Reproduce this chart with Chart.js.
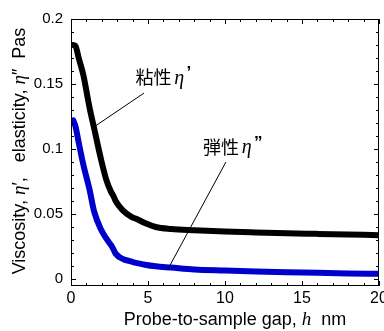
<!DOCTYPE html>
<html>
<head>
<meta charset="utf-8">
<script src="https://cdn.jsdelivr.net/npm/chart.js@4.4.1/dist/chart.umd.min.js"></script>
<style>
  html, body { margin: 0; padding: 0; background: #fff; }
</style>
</head>
<body>
<canvas id="myChart" width="384" height="331"></canvas>
<script>
// probe-to-sample gap h (nm)
var gap = [0.15, 0.3, 0.5, 0.8, 1.2, 1.5, 1.95, 2.3, 2.6, 2.75, 2.9, 3.35, 3.9, 4.3, 4.8, 5.5, 6.5, 8, 10, 12, 14, 16, 18, 20];
// viscosity eta' (Pa s)
var viscosity = [0.180, 0.179, 0.170, 0.157, 0.132, 0.116, 0.092, 0.076, 0.067, 0.064, 0.060, 0.053, 0.048, 0.046, 0.043, 0.040, 0.0385, 0.0375, 0.0365, 0.0358, 0.0352, 0.0347, 0.0342, 0.0337];
// elasticity eta'' (Pa s)
var elasticity = [0.122, 0.117, 0.105, 0.088, 0.069, 0.052, 0.038, 0.031, 0.026, 0.023, 0.0195, 0.0155, 0.0135, 0.0122, 0.011, 0.0098, 0.0088, 0.0073, 0.0065, 0.0058, 0.0052, 0.0047, 0.0043, 0.0040];

var xTicks = [0, 5, 10, 15, 20];
var yTicks = [0, 0.05, 0.1, 0.15, 0.2];

var ctx = document.getElementById('myChart').getContext('2d');

function puntos(xs, ys) {
	return xs.map(function (x, i) { return { x: x, y: ys[i] }; });
}

var SANS = '"Liberation Sans", Arial, sans-serif';
var SERIF = '"Liberation Serif", "Times New Roman", serif';

// dibuja texto por trozos (normal / cursiva) centrado en (cx, cy)
function textoMixto(c, trozos, cx, cy, ang) {
	var total = 0;
	trozos.forEach(function (t) { c.font = t.font; t.w = c.measureText(t.text).width; total += t.w; });
	c.save();
	c.translate(cx, cy);
	c.rotate(ang || 0);
	c.fillStyle = '#000';
	c.textBaseline = 'middle';
	c.textAlign = 'left';
	var x = -total / 2;
	trozos.forEach(function (t) {
		c.font = t.font;
		c.fillText(t.text, x, t.dy || 0);
		x += t.w;
	});
	c.restore();
}

// marco con marcas hacia dentro en los cuatro lados
var marco = {
	id: 'marco',
	afterDatasetsDraw: function (chart) {
		var c = chart.ctx, a = chart.chartArea;
		var sx = chart.scales.x, sy = chart.scales.y;
		c.save();
		c.strokeStyle = '#000';
		c.lineWidth = 1;
		c.strokeRect(a.left + 0.5, a.top + 0.5, a.right - a.left - 1, a.bottom - a.top - 1);
		c.beginPath();
		for (var v = 0; v <= 20; v++) {
			var px = Math.round(sx.getPixelForValue(v)) + 0.5;
			var len = (v % 5 === 0) ? 5 : 3;
			c.moveTo(px, a.bottom); c.lineTo(px, a.bottom - len);
			c.moveTo(px, a.top); c.lineTo(px, a.top + len);
		}
		for (var k = 0; k <= 20; k++) {
			var py = Math.round(sy.getPixelForValue(k / 100)) + 0.5;
			var l2 = (k % 5 === 0) ? 5 : 3;
			c.moveTo(a.left, py); c.lineTo(a.left + l2, py);
			c.moveTo(a.right, py); c.lineTo(a.right - l2, py);
		}
		c.stroke();
		c.restore();

		// titulos de los ejes
		var f = '18px ' + SANS, fi = 'italic 19px ' + SERIF;
		textoMixto(c, [
			{ text: 'Probe-to-sample gap, ', font: f },
			{ text: 'h', font: fi },
			{ text: '  nm', font: f }
		], 235, 320, 0);
		textoMixto(c, [
			{ text: 'Viscosity, ', font: f },
			{ text: 'η', font: fi },
			{ text: '′,   elasticity, ', font: f },
			{ text: 'η', font: fi },
			{ text: '″  Pas', font: f }
		], 20, 151, -Math.PI / 2);
	}
};

// etiquetas con linea guia
var etiquetas = [
	{ base: '粘性', sym: 'η', mark: '’', x: 6.0, y: 0.155, from: [4.74, 0.143], to: [1.62, 0.118] },
	{ base: '弾性', sym: 'η', mark: '”', x: 10.5, y: 0.1015, from: [10.06, 0.090], to: [6.3, 0.0077] }
];

var anotaciones = {
	id: 'anotaciones',
	afterDatasetsDraw: function (chart) {
		var c = chart.ctx;
		var sx = chart.scales.x, sy = chart.scales.y;
		etiquetas.forEach(function (e) {
			c.save();
			c.strokeStyle = '#000';
			c.lineWidth = 1;
			c.beginPath();
			c.moveTo(sx.getPixelForValue(e.from[0]), sy.getPixelForValue(e.from[1]));
			c.lineTo(sx.getPixelForValue(e.to[0]), sy.getPixelForValue(e.to[1]));
			c.stroke();
			c.restore();
			textoMixto(c, [
				{ text: e.base, font: '18px "Noto Sans CJK JP"' },
				{ text: ' ', font: '10px ' + SANS },
				{ text: e.sym, font: 'italic 20px ' + SERIF, dy: 1 },
				{ text: ' ', font: '8px ' + SANS },
				{ text: e.mark, font: 'bold 17px ' + SANS, dy: -4 }
			], sx.getPixelForValue(e.x), sy.getPixelForValue(e.y), 0);
		});
	}
};

var myChart = new Chart(ctx, {
	type: 'line',
	data: {
		datasets: [{
			label: 'viscosity',
			data: puntos(gap, viscosity),
			borderColor: '#000000',
			borderWidth: 6,
			pointRadius: 0,
			cubicInterpolationMode: 'monotone',
			borderCapStyle: 'round',
			borderJoinStyle: 'round'
		}, {
			label: 'elasticity',
			data: puntos(gap, elasticity),
			borderColor: '#0000cc',
			borderWidth: 6,
			pointRadius: 0,
			cubicInterpolationMode: 'monotone',
			borderCapStyle: 'round',
			borderJoinStyle: 'round'
		}]
	},
	options: {
		responsive: false,
		animation: false,
		devicePixelRatio: 1,
		layout: { padding: { top: 19, right: 5, bottom: 0, left: 0 } },
		plugins: { legend: { display: false }, tooltip: { enabled: false } },
		scales: {
			x: {
				type: 'linear',
				min: 0,
				max: 20,
				grid: { display: false, drawTicks: false, tickLength: 0 },
				border: { display: false },
				afterBuildTicks: function (s) { s.ticks = xTicks.map(function (v) { return { value: v }; }); },
				afterFit: function (s) { s.height = 45; s.paddingRight = 0; s.paddingLeft = 0; },
				ticks: {
					padding: 3,
					maxRotation: 0,
					color: '#000',
					font: { family: SANS, size: 16 }
				}
			},
			y: {
				type: 'linear',
				min: -0.0054,
				max: 0.2,
				grid: { display: false, drawTicks: false, tickLength: 0 },
				border: { display: false },
				afterBuildTicks: function (s) { s.ticks = yTicks.map(function (v) { return { value: v }; }); },
				afterFit: function (s) { s.width = 71; },
				ticks: {
					padding: 8,
					color: '#000',
					font: { family: SANS, size: 15 },
					callback: function (v) { return String(+v.toFixed(2)); }
				}
			}
		}
	},
	plugins: [marco, anotaciones]
});
</script>
</body>
</html>
